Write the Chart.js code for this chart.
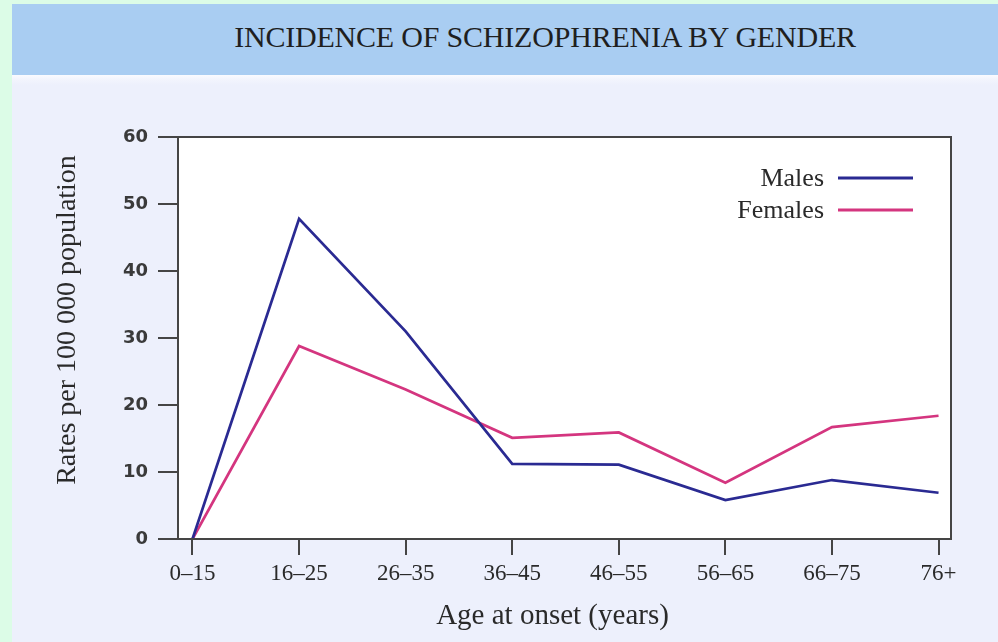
<!DOCTYPE html>
<html>
<head>
<meta charset="utf-8">
<script src="https://cdn.jsdelivr.net/npm/chart.js@4.4.1/dist/chart.umd.min.js"></script>
<style>
    html, body { margin: 0; padding: 0; }
    body { width: 998px; height: 642px; background: #dcfce7; position: relative; overflow: hidden; }
    #band { position: absolute; left: 12px; top: 4px; width: 986px; height: 71px; background: #a9cdf2; }
    #band span {
        position: absolute; left: 533px; top: 16px; transform: translateX(-50%);
        font-family: "Liberation Serif", serif; font-size: 30px; color: #1f1f1f; white-space: nowrap;
        letter-spacing: -0.2px;
    }
    #panel { position: absolute; left: 12px; top: 75px; width: 986px; height: 567px;
        background: linear-gradient(#fafbff 0px, #f3f5fd 4px, #edf0fc 10px); }
    #chart { position: absolute; left: 0; top: 0; }
</style>
</head>
<body>
<div id="band"><span>INCIDENCE OF SCHIZOPHRENIA BY GENDER</span></div>
<div id="panel"></div>
<canvas id="chart" width="998" height="642"></canvas>
<script>
// values (rates per 100 000 population)
const ageGroups = ['0–15', '16–25', '26–35', '36–45', '46–55', '56–65', '66–75', '76+'];
const males = [0, 47.8, 31, 11.2, 11.1, 5.8, 8.8, 6.9];
const females = [0, 28.8, 22.3, 15.1, 15.9, 8.4, 16.7, 18.4];
const yTicks = [0, 10, 20, 30, 40, 50, 60];

const serif = '"Liberation Serif", "Times New Roman", serif';
const axisColor = '#454545';

// white plot box with a frame round it
const plotBox = {
    id: 'plotBox',
    beforeDraw(chart) {
        const { ctx, chartArea: a } = chart;
        ctx.save();
        ctx.fillStyle = '#ffffff';
        ctx.fillRect(a.left, a.top, a.right - a.left, a.bottom - a.top);
        ctx.restore();
    },
    afterDatasetsDraw(chart) {
        const { ctx, chartArea: a } = chart;
        ctx.save();
        ctx.strokeStyle = axisColor;
        ctx.lineWidth = 2;
        ctx.strokeRect(a.left, a.top, a.right - a.left, a.bottom - a.top);
        ctx.restore();
    }
};

// legend: label on the left, line sample on the right
const lineLegend = {
    id: 'lineLegend',
    afterDraw(chart) {
        const { ctx, chartArea: a } = chart;
        ctx.save();
        ctx.font = '26px ' + serif;
        ctx.textAlign = 'right';
        ctx.textBaseline = 'middle';
        chart.data.datasets.forEach((ds, i) => {
            const y = a.top + 41 + i * 32;
            ctx.fillStyle = '#2a2a2a';
            ctx.fillText(ds.label, a.right - 127, y + 1);
            ctx.strokeStyle = ds.borderColor;
            ctx.lineWidth = 3;
            ctx.beginPath();
            ctx.moveTo(a.right - 113, y);
            ctx.lineTo(a.right - 38, y);
            ctx.stroke();
        });
        ctx.restore();
    }
};

// axis titles
const axisTitles = {
    id: 'axisTitles',
    afterDraw(chart) {
        const { ctx, chartArea: a } = chart;
        ctx.save();
        ctx.fillStyle = '#2a2a2a';
        ctx.font = '29px ' + serif;
        ctx.textAlign = 'center';
        ctx.textBaseline = 'middle';
        ctx.fillText('Age at onset (years)', (a.left + a.right) / 2 - 12, a.bottom + 77);
        ctx.font = '28px ' + serif;
        ctx.translate(a.left - 110, (a.top + a.bottom) / 2 - 18);
        ctx.rotate(-Math.PI / 2);
        ctx.fillText('Rates per 100 000 population', 0, 0);
        ctx.restore();
    }
};

new Chart(document.getElementById('chart'), {
    type: 'line',
    data: {
        datasets: [
            {
                label: 'Males',
                data: males.map((v, i) => ({ x: i, y: v })),
                borderColor: '#2a2a92',
                borderWidth: 2.7,
                pointRadius: 0,
                tension: 0
            },
            {
                label: 'Females',
                data: females.map((v, i) => ({ x: i, y: v })),
                borderColor: '#d4357f',
                borderWidth: 2.7,
                pointRadius: 0,
                tension: 0
            }
        ]
    },
    options: {
        responsive: false,
        animation: false,
        devicePixelRatio: 1,
        layout: { padding: { top: 137, right: 47, bottom: 0, left: 0 } },
        plugins: {
            legend: { display: false },
            tooltip: { enabled: false }
        },
        scales: {
            x: {
                type: 'linear',
                min: -0.136,
                max: 7.117,
                afterBuildTicks: (scale) => { scale.ticks = ageGroups.map((_, i) => ({ value: i })); },
                afterFit: (scale) => { scale.height = 103; },
                border: { display: false },
                grid: { drawOnChartArea: false, drawTicks: true, tickLength: 16, color: axisColor, lineWidth: 2 },
                ticks: {
                    padding: 5,
                    color: '#2a2a2a',
                    font: { family: serif, size: 23 },
                    maxRotation: 0,
                    autoSkip: false,
                    callback: (value) => ageGroups[value]
                }
            },
            y: {
                min: 0,
                max: 60,
                afterBuildTicks: (scale) => { scale.ticks = yTicks.map(v => ({ value: v })); },
                afterFit: (scale) => { scale.width = 178; },
                border: { display: false },
                grid: { drawOnChartArea: false, drawTicks: true, tickLength: 20, color: axisColor, lineWidth: 2 },
                ticks: {
                    padding: 10,
                    color: '#3a3a3a',
                    font: { family: '"DejaVu Sans", sans-serif', size: 18, weight: 'bold' }
                }
            }
        }
    },
    plugins: [plotBox, lineLegend, axisTitles]
});
</script>
</body>
</html>
